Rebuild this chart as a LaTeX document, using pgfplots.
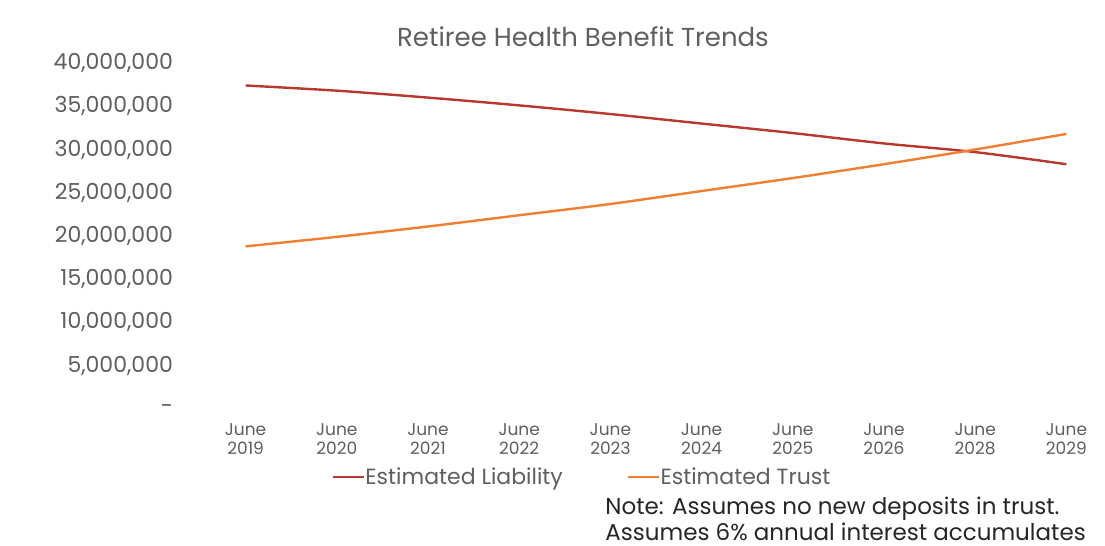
\documentclass[border=0pt]{standalone}
\usepackage{pgfplots}
\pgfplotsset{compat=1.18}
\usepackage{fontspec}
\setmainfont{Poppins}
\definecolor{txt}{HTML}{5F5F5F}
\definecolor{liab}{HTML}{B8382E}
\definecolor{trust}{HTML}{F07F34}
\begin{document}
\begin{tikzpicture}
\useasboundingbox[fill=white] (0,0) rectangle (552.5pt,273pt);
\begin{axis}[
  at={(100pt,68.5pt)}, anchor=south west,
  scale only axis, width=456pt, height=173pt,
  xmin=-0.5, xmax=9.5, ymin=0, ymax=40000000,
  scaled y ticks=false,
  axis line style={draw=none}, tick style={draw=none},
  xtick={0,...,9},
  xticklabels={{June\\2019},{June\\2020},{June\\2021},{June\\2022},{June\\2023},{June\\2024},{June\\2025},{June\\2026},{June\\2028},{June\\2029}},
  xticklabel style={align=center, font=\fontsize{8.5}{9.5}\selectfont, text=txt, yshift=-4pt},
  ytick={0,5000000,10000000,15000000,20000000,25000000,30000000,35000000,40000000},
  yticklabels={-,{5,000,000},{10,000,000},{15,000,000},{20,000,000},{25,000,000},{30,000,000},{35,000,000},{40,000,000}},
  yticklabel style={font=\fontsize{11}{13}\selectfont, text=txt, anchor=east, xshift=-10pt},
  legend style={at={(0.42,-0.197)}, anchor=center, draw=none, fill=none,
    legend columns=2, font=\fontsize{11}{13}\selectfont, text=txt,
    /tikz/every even column/.append style={column sep=30pt},
    /tikz/every odd column/.append style={column sep=-2pt}},
  legend image code/.code={\draw[#1, line width=1.2pt] (0,0) -- (0.55cm,0);},
  legend cell align=left,
]
\addplot[liab, line width=1.2pt, smooth] coordinates {
(0,37400000) (1,36800000) (2,36000000) (3,35100000) (4,34100000) (5,33000000) (6,31900000) (7,30700000) (8,29700000) (9,28300000)};
\addlegendentry{Estimated Liability}
\addplot[trust, line width=1.2pt, smooth] coordinates {
(0,18800000) (1,19900000) (2,21100000) (3,22400000) (4,23700000) (5,25200000) (6,26700000) (7,28300000) (8,30000000) (9,31800000)};
\addlegendentry{Estimated Trust}
\end{axis}
\node[text=txt, font=\fontsize{13}{15}\selectfont] at (291.5pt,254.5pt) {Retiree Health Benefit Trends};
\node[text=black!85, font=\fontsize{11.5}{13}\selectfont, anchor=west, inner sep=0pt] at (302.5pt,18.5pt) {Note: Assumes no new deposits in trust.};
\node[text=black!85, font=\fontsize{11.5}{13}\selectfont, anchor=west, inner sep=0pt] at (302.5pt,7pt) {Assumes 6\% annual interest accumulates};
\end{tikzpicture}
\end{document}
